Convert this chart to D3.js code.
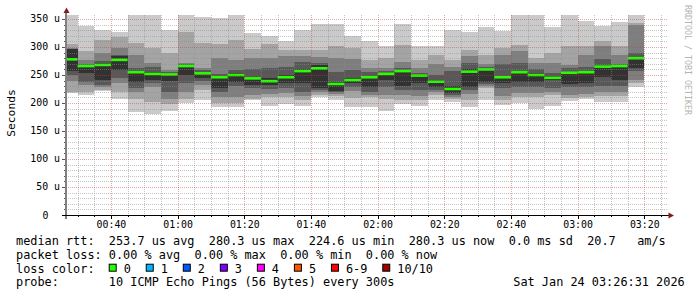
<!DOCTYPE html>
<html>
<head>
<meta charset="utf-8">
<script src="https://cdn.jsdelivr.net/npm/d3@7"></script>
<style>
body { margin: 0; background: #fff; }
text { font-family: "DejaVu Sans Mono", monospace; white-space: pre; }
</style>
</head>
<body>
<svg id="chart" width="697" height="297"></svg>
<script>
// column end times (5 min steps)
let times = ["00:30","00:35","00:40","00:45","00:50","00:55","01:00","01:05","01:10","01:15",
  "01:20","01:25","01:30","01:35","01:40","01:45","01:50","01:55","02:00","02:05",
  "02:10","02:15","02:20","02:25","02:30","02:35","02:40","02:45","02:50","02:55",
  "03:00","03:05","03:10","03:15","03:20"];

// median rtt in microseconds
let median = [278,266,268,277,255,252,251,266,253,246,250,244,239,246,257,262,234,241,246,252,
  257,249,238,225,256,260,246,255,250,245,254,255,265,266,280];

// sorted pings, fastest (ping1) to slowest (ping10), microseconds
let ping1  = [217,214,221,207,184,180,186,200,205,193,193,205,195,198,195,211,205,192,193,186,198,195,205,202,192,205,196,200,189,195,204,207,202,202,229];
let ping2  = [220,220,224,220,207,202,199,208,223,200,200,208,210,210,205,215,212,209,211,208,205,205,214,208,205,226,205,211,210,214,209,211,213,212,235];
let ping3  = [239,232,228,235,220,229,208,220,232,210,211,215,216,217,212,220,216,222,215,215,214,212,220,210,216,230,212,217,217,220,214,216,220,220,241];
let ping4  = [250,238,232,244,226,235,220,236,240,220,230,226,225,226,220,223,219,229,220,229,223,223,224,214,223,234,226,228,229,226,228,229,230,230,258];
let ping5  = [257,253,241,259,238,241,240,250,244,226,238,232,232,235,235,226,222,236,229,241,230,235,228,218,229,238,235,238,238,241,234,235,247,241,262];
let ping6  = [296,268,272,284,258,256,253,268,256,249,253,247,245,250,260,268,238,244,249,254,259,251,241,230,260,262,248,256,253,249,256,257,268,268,283];
let ping7  = [297,270,275,286,262,265,255,269,259,252,259,260,262,265,274,271,256,259,256,257,262,253,250,258,271,264,270,271,260,253,262,265,278,270,290];
let ping8  = [298,277,289,299,286,271,259,271,262,280,277,280,280,284,284,283,280,278,262,262,274,262,270,265,284,270,285,293,271,271,268,286,302,286,340];
let ping9  = [306,292,312,318,308,298,290,327,307,306,312,296,305,295,295,295,301,299,277,280,304,277,286,277,295,286,299,304,280,290,301,301,311,301,342];
let ping10 = [365,337,331,327,365,365,330,365,353,351,365,325,320,311,330,341,341,320,311,301,341,301,301,330,326,335,329,365,365,335,365,347,337,345,365];

let yTicks = ["0","50 u","100 u","150 u","200 u","250 u","300 u","350 u"];

let lossLabels = ["0","1","2","3","4","5","6-9","10/10"];
let lossColors = ["#26ff00","#00b8ff","#0059ff","#7e00ff","#ff00ff","#ff5500","#ff0000","#a10000"];

let legendLines = [
  "median rtt:  253.7 us avg  280.3 us max  224.6 us min  280.3 us now  0.0 ms sd  20.7   am/s",
  "packet loss: 0.00 % avg  0.00 % max  0.00 % min  0.00 % now"
];
let probeText = "probe:       10 ICMP Echo Pings (56 Bytes) every 300s";
let stamp = "Sat Jan 24 03:26:31 2026";

let smoke = ["#cacaca","#a4a4a4","#7e7e7e","#585858","#323232"];

const svg = d3.select("#chart");
const parseHMS = d3.timeParse("%H:%M:%S");
const parseHM = d3.timeParse("%H:%M");

let x = d3.scaleTime()
  .domain([parseHMS("00:26:31"), parseHMS("03:26:31")])
  .range([66, 666]);
let y = d3.scaleLinear()
  .domain([0, 357.14])
  .range([215, 15]);

const pings = [ping1,ping2,ping3,ping4,ping5,ping6,ping7,ping8,ping9,ping10];
const cols = times.map((t, i) => {
  const end = parseHM(t);
  return {start: d3.timeMinute.offset(end, -5), end: end, p: pings.map(s => s[i]), med: median[i]};
});

svg.append("defs").append("clipPath").attr("id", "plot")
  .append("rect").attr("x", 66).attr("y", 15).attr("width", 600).attr("height", 200);

const plot = svg.append("g").attr("clip-path", "url(#plot)");

// smoke bands, lightest (ping1..ping10) first
smoke.forEach((c, k) => {
  plot.append("g").selectAll("rect")
    .data(cols)
    .enter()
    .append("rect")
    .attr("x", d => x(d.start))
    .attr("width", d => x(d.end) - x(d.start))
    .attr("y", d => y(d.p[9 - k]))
    .attr("height", d => y(d.p[k]) - y(d.p[9 - k]))
    .attr("fill", c)
    .attr("shape-rendering", "crispEdges");
});

// median line coloured by loss (all 0 loss here)
plot.append("g").selectAll("rect")
  .data(cols)
  .enter()
  .append("rect")
  .attr("x", d => x(d.start))
  .attr("width", d => x(d.end) - x(d.start))
  .attr("y", d => y(d.med) - 1.3)
  .attr("height", 2.6)
  .attr("fill", lossColors[0]);

// grid (drawn over the data like rrdtool)
const grid = svg.append("g").attr("shape-rendering", "crispEdges");
const minorT = d3.timeMinute.every(5).range(x.domain()[0], x.domain()[1]);
minorT.forEach(t => {
  const major = t.getMinutes() % 20 === 0;
  const xx = Math.round(x(t)) + 0.5;
  grid.append("line")
    .attr("x1", xx).attr("x2", xx).attr("y1", 15).attr("y2", 215)
    .attr("stroke", major ? "rgba(200,60,60,0.45)" : "rgba(140,140,140,0.5)")
    .attr("stroke-dasharray", "1,1");
  grid.append("line")
    .attr("x1", xx).attr("x2", xx).attr("y1", 215).attr("y2", major ? 219 : 217)
    .attr("stroke", "#000");
});
y.ticks(36).filter(v => v > 0).forEach(v => {
  const major = v % 50 === 0;
  const yy = Math.round(y(v)) + 0.5;
  grid.append("line")
    .attr("x1", 66).attr("x2", 668).attr("y1", yy).attr("y2", yy)
    .attr("stroke", major ? "rgba(200,60,60,0.45)" : "rgba(140,140,140,0.5)")
    .attr("stroke-dasharray", "1,1");
  grid.append("line")
    .attr("x1", major ? 62 : 64).attr("x2", 66).attr("y1", yy).attr("y2", yy)
    .attr("stroke", "#555");
});

// axes
svg.append("line").attr("x1", 66).attr("x2", 66).attr("y1", 12).attr("y2", 219)
  .attr("stroke", "#808080").attr("stroke-width", 2);
svg.append("line").attr("x1", 62).attr("x2", 669).attr("y1", 215.5).attr("y2", 215.5)
  .attr("stroke", "#000").attr("stroke-width", 1.2);
svg.append("path").attr("d", "M66.5,7.5 L69.5,13 L63.5,13 Z").attr("fill", "#7f1f1f");
svg.append("path").attr("d", "M674,215.5 L668.5,212.5 L668.5,218.5 Z").attr("fill", "#7f1f1f");

// y labels
y.ticks(7).forEach((v, i) => {
  svg.append("text")
    .attr("x", v === 0 ? 42.5 : 60)
    .attr("y", y(v) + 3.5)
    .attr("text-anchor", v === 0 ? "start" : "end")
    .attr("font-size", "9.9px")
    .text(yTicks[i]);
});

// x labels
x.ticks(d3.timeMinute.every(20)).forEach(t => {
  svg.append("text")
    .attr("x", x(t) + 0.5)
    .attr("y", 228)
    .attr("text-anchor", "middle")
    .attr("font-size", "9.9px")
    .text(d3.timeFormat("%H:%M")(t));
});

// titles
svg.append("text")
  .attr("transform", "translate(15,113) rotate(-90)")
  .attr("text-anchor", "middle")
  .attr("font-size", "11.3px")
  .text("Seconds");
svg.append("text")
  .attr("transform", "translate(685,5) rotate(90)")
  .attr("font-size", "8.3px")
  .attr("fill", "#b4b4b4")
  .text("RRDTOOL / TOBI OETIKER");

// legend
const fs = "11.86px";
const cw = 7.14;
legendLines.forEach((s, i) => {
  svg.append("text").attr("x", 16).attr("y", 245.3 + i * 14)
    .attr("font-size", fs).attr("xml:space", "preserve").text(s);
});
svg.append("text").attr("x", 16).attr("y", 272.7)
  .attr("font-size", fs).text("loss color:");
let bx = 108.7;
lossLabels.forEach((l, i) => {
  svg.append("rect")
    .attr("x", bx + 0.5).attr("y", 264.2)
    .attr("width", 7).attr("height", 7)
    .attr("fill", lossColors[i]).attr("stroke", "#000");
  svg.append("text").attr("x", bx + 15).attr("y", 272.7)
    .attr("font-size", fs).text(l);
  bx = bx + 15 + l.length * cw + 14.9;
});
svg.append("text").attr("x", 16).attr("y", 286.3)
  .attr("font-size", fs).attr("xml:space", "preserve").text(probeText);
svg.append("text").attr("x", 513.3).attr("y", 286.3)
  .attr("font-size", fs).text(stamp);
</script>
</body>
</html>
